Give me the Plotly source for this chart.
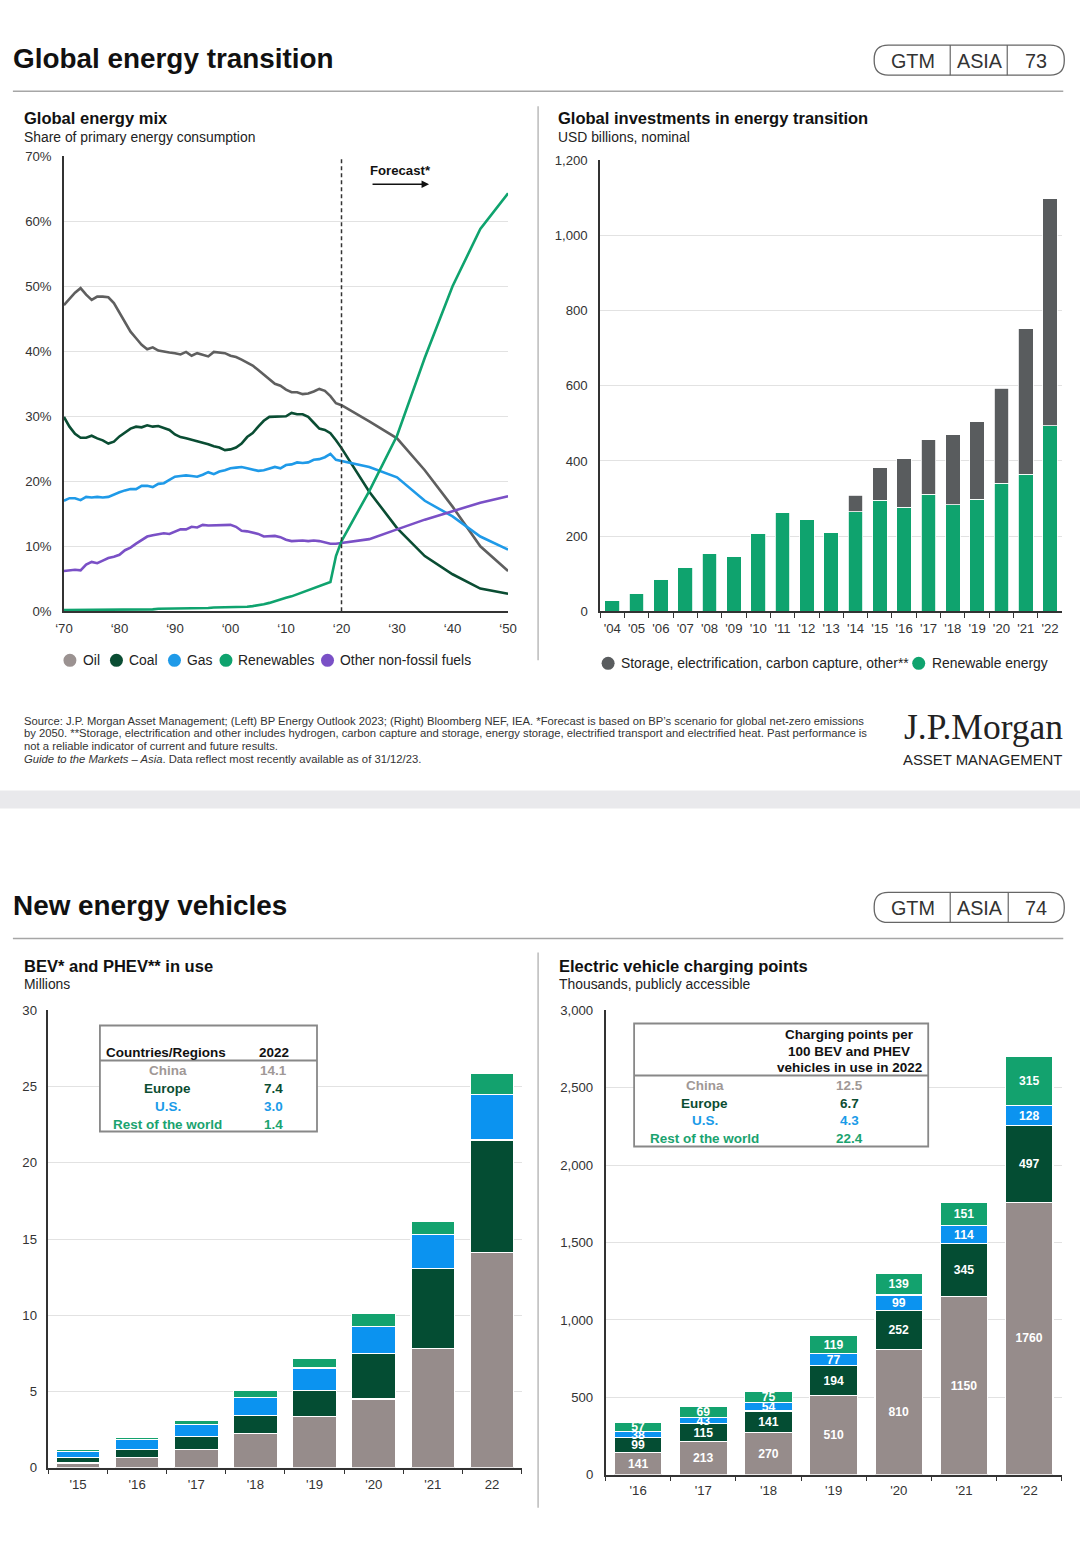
import plotly.graph_objects as go

# Figure fills the page (body margin removed by post_script).
W, H = 1080, 1557
# Measured mapping between page pixels and the photographed picture
# (picture = offset + scale * page); positions below are given in picture pixels.
SX, OX = 0.983, 9.1
SY, OY = 0.990, 6.9
FS = 1.014  # font compensation for the same mapping

def X(p): return ((p - OX) / SX) / W
def Y(p): return 1 - ((p - OY) / SY) / H

FONT = "Liberation Sans, Arial, Helvetica, sans-serif"
SERIF = "Liberation Serif, DejaVu Serif, serif"
TXT = "#222222"

# ---------------- Data: Global energy mix (% share) ----------------
mix_years_hist = list(range(1970, 2021))
mix_years_fc = [2025, 2030, 2035, 2040, 2045, 2050]
oil_hist = [47.1, 48.0, 49.0, 49.7, 48.7, 47.9, 48.4, 48.4, 48.3, 47.4,
            45.9, 44.3, 43.0, 42.0, 41.0, 40.3, 40.6, 40.1, 39.9, 39.8,
            39.7, 39.5, 39.9, 39.3, 39.7, 39.5, 39.2, 39.9, 39.8, 39.7,
            39.3, 39.1, 38.7, 38.2, 37.8, 37.1, 36.4, 35.6, 35.0, 34.7,
            34.1, 33.7, 33.7, 33.4, 33.5, 33.8, 34.2, 33.9, 33.1, 32.0,
            31.7]
oil_fc = [29.2, 26.6, 21.7, 16.1, 10.0, 6.2]
coal_hist = [29.9, 28.4, 27.3, 26.7, 26.7, 27.0, 26.6, 26.3, 25.8, 26.1,
             26.9, 27.5, 28.1, 28.4, 28.3, 28.6, 28.4, 28.5, 28.2, 27.9,
             27.2, 26.8, 26.6, 26.4, 26.2, 26.0, 25.7, 25.4, 25.2, 24.8,
             24.9, 25.2, 25.8, 26.8, 27.4, 28.4, 29.3, 29.9, 29.9, 29.9,
             30.0, 30.5, 30.3, 30.3, 29.9, 29.0, 28.1, 27.9, 27.4, 26.3,
             25.1]
coal_fc = [18.4, 12.8, 8.5, 5.7, 3.5, 2.7]
gas_hist = [17.0, 17.4, 17.4, 17.1, 17.6, 17.5, 17.6, 17.5, 17.6, 18.0,
            18.3, 18.6, 18.8, 18.8, 19.3, 19.3, 19.1, 19.6, 19.7, 20.2,
            20.7, 20.8, 20.9, 20.8, 20.7, 21.0, 21.4, 21.1, 21.5, 21.7,
            22.0, 22.1, 22.2, 22.0, 21.8, 21.6, 21.7, 22.0, 22.2, 22.0,
            22.5, 22.6, 22.9, 22.8, 22.9, 23.3, 23.4, 23.7, 24.2, 23.3,
            23.1]
gas_fc = [22.2, 20.6, 17.0, 14.6, 11.5, 9.5]
renew_hist = [0.2, 0.2, 0.2, 0.2, 0.2, 0.2, 0.2, 0.2, 0.3, 0.3,
              0.3, 0.3, 0.3, 0.3, 0.3, 0.3, 0.3, 0.4, 0.4, 0.4,
              0.4, 0.4, 0.4, 0.5, 0.5, 0.5, 0.5, 0.6, 0.6, 0.6,
              0.6, 0.6, 0.7, 0.7, 0.8, 0.9, 1.1, 1.3, 1.6, 1.9,
              2.1, 2.3, 2.6, 2.9, 3.2, 3.5, 3.8, 4.1, 4.5, 8.5,
              10.8]
renew_fc = [18.5, 27.0, 39.0, 50.0, 58.8, 64.3]
other_hist = [6.2, 6.3, 6.4, 6.3, 7.2, 7.6, 7.4, 7.8, 8.2, 8.4,
              8.7, 9.4, 9.8, 10.4, 11.0, 11.5, 11.7, 11.8, 12.0, 11.9,
              12.3, 12.6, 12.6, 13.0, 12.9, 13.3, 13.2, 13.2, 13.3, 13.3,
              13.3, 13.0, 12.4, 12.3, 12.1, 11.9, 11.5, 11.6, 11.6, 11.4,
              11.0, 10.8, 10.9, 10.9, 10.8, 10.9, 10.8, 10.6, 10.4, 10.4,
              10.5]
other_fc = [11.1, 12.6, 14.1, 15.4, 16.7, 17.7]
mix_xticks = [1970, 1980, 1990, 2000, 2010, 2020, 2030, 2040, 2050]
mix_xlabels = ["\u201870", "\u201880", "\u201890", "\u201800", "\u201810",
               "\u201820", "\u201830", "\u201840", "\u201850"]
forecast_year = 2020

# ---------------- Data: investments in energy transition ----------------
inv_years = ["'04", "'05", "'06", "'07", "'08", "'09", "'10", "'11", "'12", "'13",
             "'14", "'15", "'16", "'17", "'18", "'19", "'20", "'21", "'22"]
inv_renew = [30, 48, 85, 117, 153, 147, 208, 262, 244, 209,
             265, 296, 277, 312, 283, 298, 341, 364, 493]
inv_storage = [0, 0, 0, 0, 0, 0, 0, 0, 0, 0,
               44, 86, 129, 144, 186, 206, 252, 388, 605]

# ---------------- Data: BEV and PHEV in use (millions) ----------------
ev_years = ["'15", "'16", "'17", "'18", "'19", "'20", "'21", "22"]
ev_china = [0.3, 0.64, 1.2, 2.23, 3.37, 4.5, 7.8, 14.1]
ev_europe = [0.35, 0.56, 0.85, 1.2, 1.67, 3.0, 5.25, 7.4]
ev_us = [0.4, 0.64, 0.77, 1.15, 1.5, 1.75, 2.25, 3.0]
ev_row = [0.15, 0.15, 0.25, 0.5, 0.6, 0.9, 0.85, 1.4]
ev_table_regions = ["China", "Europe", "U.S.", "Rest of the world"]
ev_table_values = ["14.1", "7.4", "3.0", "1.4"]

# ---------------- Data: EV charging points (thousands) ----------------
cp_years = ["'16", "'17", "'18", "'19", "'20", "'21", "'22"]
cp_china = [141, 213, 270, 510, 810, 1150, 1760]
cp_europe = [99, 115, 141, 194, 252, 345, 497]
cp_us = [38, 43, 54, 77, 99, 114, 128]
cp_row = [57, 69, 75, 119, 139, 151, 315]
cp_table_values = ["12.5", "6.7", "4.3", "22.4"]

# ---------------- Colours ----------------
C_OIL = "#5f5f5f"
C_OIL_LEG = "#9b9291"
C_COAL = "#0a4d33"
C_GAS = "#1f9ae8"
C_REN = "#0fa36e"
C_OTHER = "#7a50c6"
C_STORAGE = "#595c5e"
C_CHINA = "#968c8b"
C_EUROPE = "#044d33"
C_US = "#0b93f0"
C_ROW = "#13a26e"
T_CHINA = "#a09896"
T_EUROPE = "#0b4d32"
T_US = "#1a9be8"
T_ROW = "#1aa36f"

fig = go.Figure()

# ---------- Chart 1 lines ----------
mix_years = mix_years_hist + mix_years_fc
for name, h, f, c in [("Oil", oil_hist, oil_fc, C_OIL),
                      ("Coal", coal_hist, coal_fc, C_COAL),
                      ("Gas", gas_hist, gas_fc, C_GAS),
                      ("Other non-fossil fuels", other_hist, other_fc, C_OTHER),
                      ("Renewables", renew_hist, renew_fc, C_REN)]:
    fig.add_trace(go.Scatter(x=mix_years, y=h + f, mode="lines", name=name,
                             line=dict(color=c, width=2.6), xaxis="x", yaxis="y"))

# ---------- Chart 2 bars ----------
fig.add_trace(go.Bar(x=inv_years, y=inv_renew, marker=dict(color=C_REN, line=dict(color="white", width=0.8)),
                     width=0.6, xaxis="x2", yaxis="y2", name="Renewable energy"))
fig.add_trace(go.Bar(x=inv_years, y=inv_storage, marker=dict(color=C_STORAGE, line=dict(color="white", width=0.8)),
                     width=0.6, xaxis="x2", yaxis="y2", name="Storage"))

# ---------- Chart 3 bars ----------
for vals, c in [(ev_china, C_CHINA), (ev_europe, C_EUROPE), (ev_us, C_US), (ev_row, C_ROW)]:
    fig.add_trace(go.Bar(x=ev_years, y=vals, marker=dict(color=c, line=dict(color="white", width=1.2)),
                         width=0.74, xaxis="x3", yaxis="y3"))

# ---------- Chart 4 bars ----------
for vals, c in [(cp_china, C_CHINA), (cp_europe, C_EUROPE), (cp_us, C_US), (cp_row, C_ROW)]:
    fig.add_trace(go.Bar(x=cp_years, y=vals, marker=dict(color=c, line=dict(color="white", width=1.2)),
                         width=0.73, xaxis="x4", yaxis="y4",
                         text=[f"<b>{v}</b>" for v in vals], textposition="inside",
                         insidetextanchor="middle", constraintext="none", textangle=0,
                         textfont=dict(color="white", size=12 * FS, family=FONT)))

AX = "#333333"
GRID = "#e2e2e2"
TICKF = dict(size=13 * FS, color="#333333", family=FONT)

def xcat(domain_px, n, labels_standoff):
    return dict(domain=[X(domain_px[0]), X(domain_px[1])], type="category",
                range=[-0.5, n - 0.5], showline=True, linecolor=AX, linewidth=1.5,
                ticks="outside", tickson="boundaries", ticklen=5, tickcolor=AX, tickwidth=1.2,
                showgrid=False, tickfont=TICKF, ticklabelstandoff=labels_standoff,
                tickangle=0, fixedrange=True)

def yax(domain_py, rng, dtick, anchor, fmt=None, standoff=10, tickvals=None, ticktext=None):
    d = dict(domain=[Y(domain_py[0]), Y(domain_py[1])], range=rng, dtick=dtick,
             showline=True, linecolor=AX, linewidth=1.5, showgrid=True, gridcolor=GRID,
             gridwidth=1, zeroline=False, ticks="", tickfont=TICKF, anchor=anchor,
             ticklabelstandoff=standoff, fixedrange=True)
    if fmt:
        d["tickformat"] = fmt
    if tickvals is not None:
        d["tickmode"] = "array"
        d["tickvals"] = tickvals
        d["ticktext"] = ticktext
    return d

layout = dict(
    width=W, height=H, margin=dict(l=0, r=0, t=0, b=0),
    paper_bgcolor="white", plot_bgcolor="rgba(0,0,0,0)", showlegend=False,
    barmode="stack", font=dict(family=FONT, size=13, color="#333333"),
    xaxis=dict(domain=[X(64), X(508)], range=[1970, 2050], tickmode="array",
               tickvals=mix_xticks, ticktext=mix_xlabels, showline=True, linecolor=AX,
               linewidth=1.5, showgrid=False, zeroline=False, ticks="", tickfont=TICKF,
               ticklabelstandoff=4, tickangle=0, anchor="y", fixedrange=True),
    yaxis=yax((611, 156), [0, 70], 10, "x", standoff=8,
              tickvals=[0, 10, 20, 30, 40, 50, 60, 70],
              ticktext=["0%", "10%", "20%", "30%", "40%", "50%", "60%", "70%"]),
    xaxis2=dict(xcat((600, 1062), len(inv_years), 4), anchor="y2"),
    yaxis2=yax((611, 160), [0, 1200], 200, "x2", fmt=",", standoff=8),
    xaxis3=dict(xcat((48.5, 521.5), len(ev_years), 4), anchor="y3"),
    yaxis3=yax((1467, 1010), [0, 30], 5, "x3", standoff=7),
    xaxis4=dict(xcat((605.5, 1061.5), len(cp_years), 3), anchor="y4"),
    yaxis4=yax((1474, 1010), [0, 3000], 500, "x4", fmt=",", standoff=8),
)
fig.update_layout(**layout)

shapes = []
ann = []

def txt(s, px, py, size=13, color=TXT, anchor="left", family=FONT, yanchor="middle"):
    ann.append(dict(text=s, x=X(px), y=Y(py), xref="paper", yref="paper", xanchor=anchor,
                    yanchor=yanchor, showarrow=False, borderpad=0,
                    font=dict(size=size * FS, color=color, family=family)))

def line(x0, y0, x1, y1, color="#999999", width=1.2, dash=None):
    d = dict(type="line", xref="paper", yref="paper", x0=X(x0), y0=Y(y0), x1=X(x1), y1=Y(y1),
             line=dict(color=color, width=width))
    if dash:
        d["line"]["dash"] = dash
    shapes.append(d)

def rect(x0, y0, x1, y1, color="#8a8a8a", width=1.5, fill="rgba(0,0,0,0)"):
    shapes.append(dict(type="rect", xref="paper", yref="paper", x0=X(x0), y0=Y(y1), x1=X(x1), y1=Y(y0),
                       line=dict(color=color, width=width), fillcolor=fill))

def circle(cx, cy, r, color):
    shapes.append(dict(type="circle", xref="paper", yref="paper", x0=X(cx - r), x1=X(cx + r),
                       y0=Y(cy + r), y1=Y(cy - r), line=dict(width=0), fillcolor=color))

def pill(x0, y0, x1, y1, r):
    pts = lambda a, b: f"{X(a):.6f},{Y(b):.6f}"
    p = (f"M {pts(x0 + r, y0)} L {pts(x1 - r, y0)} Q {pts(x1, y0)} {pts(x1, y0 + r)} "
         f"L {pts(x1, y1 - r)} Q {pts(x1, y1)} {pts(x1 - r, y1)} L {pts(x0 + r, y1)} "
         f"Q {pts(x0, y1)} {pts(x0, y1 - r)} L {pts(x0, y0 + r)} Q {pts(x0, y0)} {pts(x0 + r, y0)} Z")
    shapes.append(dict(type="path", xref="paper", yref="paper", path=p,
                       line=dict(color="#666666", width=1.3)))

def header(title, page, ty, py0, py1, rule_y, d1, d2):
    txt(f"<b>{title}</b>", 12, ty, size=27.5, color="#111111")
    pill(874, py0, 1064, py1, 14)
    line(d1, py0, d1, py1, color="#666666", width=1.2)
    line(d2, py0, d2, py1, color="#666666", width=1.2)
    cy = (py0 + py1) / 2 + 1
    txt("GTM", 913, cy, size=19.5, color="#333333", anchor="center")
    txt("ASIA", (d1 + d2) / 2 + 1, cy, size=19.5, color="#333333", anchor="center")
    txt(page, (d2 + 1064) / 2, cy, size=19.5, color="#333333", anchor="center")
    line(13, rule_y, 1063, rule_y, color="#a6a6a6", width=1.5)

# ---------- Section 1 ----------
header("Global energy transition", "73", 58, 45, 75, 91, 950, 1007)
line(538, 106, 538, 660, color="#aaaaaa", width=1.2)
txt("<b>Global energy mix</b>", 23, 118, size=16.3, color="#111111")
txt("Share of primary energy consumption", 23, 137, size=13.7)
txt("<b>Global investments in energy transition</b>", 557, 118, size=16.3, color="#111111")
txt("USD billions, nominal", 557, 137, size=13.7)

# forecast marker
shapes.append(dict(type="line", xref="x", yref="y", x0=forecast_year, x1=forecast_year, y0=0, y1=70,
                   line=dict(color="#333333", width=1.5, dash="4px,3px")))
txt("<b>Forecast*</b>", 400, 170, size=13, color="#111111", anchor="center")
ann.append(dict(x=X(429), y=Y(184), xref="paper", yref="paper", ax=-58, ay=0, text="",
                showarrow=True, arrowhead=2, arrowsize=1, arrowwidth=1.5, arrowcolor="#111111"))

# left legend
for cx, tx, label, c in [(70, 82, "Oil", C_OIL_LEG), (116.5, 128, "Coal", C_COAL),
                         (174.5, 186.5, "Gas", C_GAS), (226, 237.5, "Renewables", C_REN),
                         (327.5, 339, "Other non-fossil fuels", C_OTHER)]:
    circle(cx, 660, 6.5, c)
    txt(label, tx, 660, size=13.7, color="#222222")
# right legend
circle(608, 663, 6.5, C_STORAGE)
txt("Storage, electrification, carbon capture, other**", 620, 663, size=13.7, color="#222222")
circle(918.5, 663, 6.5, C_REN)
txt("Renewable energy", 931, 663, size=13.7, color="#222222")

# footer
foot = [
    "Source: J.P. Morgan Asset Management; (Left) BP Energy Outlook 2023; (Right) Bloomberg NEF, IEA. *Forecast is based on BP\u2019s scenario for global net-zero emissions",
    "by 2050. **Storage, electrification and other includes hydrogen, carbon capture and storage, energy storage, electrified transport and electrified heat. Past performance is",
    "not a reliable indicator of current and future results.",
    "<i>Guide to the Markets \u2013 Asia</i>. Data reflect most recently available as of 31/12/23.",
]
for s, py in zip(foot, [720.5, 733, 745.5, 758.5]):
    txt(s, 23, py, size=11.1, color="#333333")
txt("J.P.Morgan", 1064, 727, size=35, color="#222222", anchor="right", family=SERIF)
txt("ASSET MANAGEMENT", 1063, 760, size=14.7, color="#222222", anchor="right")

# band
rect(-20, 790, 1100, 808, color="rgba(0,0,0,0)", width=0, fill="#e9e9ec")

# ---------- Section 2 ----------
header("New energy vehicles", "74", 905, 892, 922, 938, 950, 1008)
line(538, 952, 538, 1507, color="#aaaaaa", width=1.2)
txt("<b>BEV* and PHEV** in use</b>", 23, 966, size=16.3, color="#111111")
txt("Millions", 23, 984, size=13.7)
txt("<b>Electric vehicle charging points</b>", 558, 966, size=16.3, color="#111111")
txt("Thousands, publicly accessible", 558, 984, size=13.7)

row_colors = [T_CHINA, T_EUROPE, T_US, T_ROW]

# table 1
rect(100, 1025, 317, 1131, color="#888888", width=1.8, fill="white")
line(100, 1060, 317, 1060, color="#888888", width=1.8)
txt("<b>Countries/Regions</b>", 166, 1052, size=13.3, color="#111111", anchor="center")
txt("<b>2022</b>", 274, 1052, size=13.3, color="#111111", anchor="center")
for reg, val, c, py in zip(ev_table_regions, ev_table_values, row_colors, [1070, 1088, 1106, 1124]):
    txt(f"<b>{reg}</b>", 168, py, size=13.3, color=c, anchor="center")
    txt(f"<b>{val}</b>", 274, py, size=13.3, color=c, anchor="center")

# table 2
rect(634, 1023, 928, 1146, color="#888888", width=1.8, fill="white")
line(634, 1075, 928, 1075, color="#888888", width=1.8)
for s, py in zip(["Charging points per", "100 BEV and PHEV", "vehicles in use in 2022"], [1034, 1051, 1067]):
    txt(f"<b>{s}</b>", 849, py, size=13.3, color="#111111", anchor="center")
for reg, val, c, py in zip(ev_table_regions, cp_table_values, row_colors, [1085, 1103, 1120, 1138]):
    txt(f"<b>{reg}</b>", 704.5, py, size=13.3, color=c, anchor="center")
    txt(f"<b>{val}</b>", 849.5, py, size=13.3, color=c, anchor="center")

fig.update_layout(shapes=shapes, annotations=ann)
fig.write_html("out.html", config={"displayModeBar": False},
               post_script="document.body.style.margin='0';")
